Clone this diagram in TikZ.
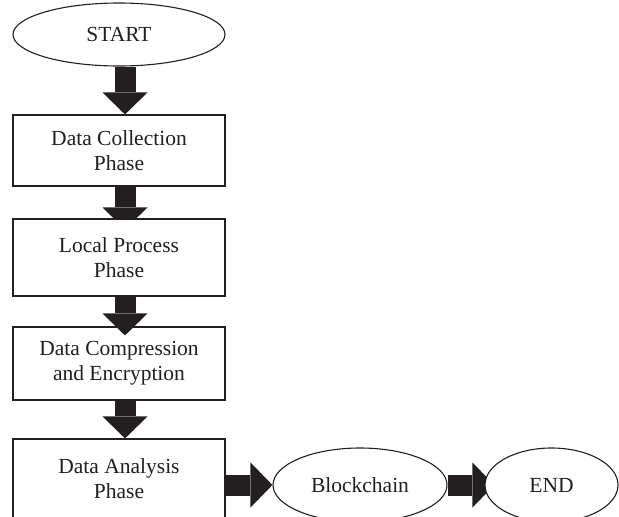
\documentclass[tikz,border=0pt]{standalone}
\usepackage{fontspec}
\setmainfont{Liberation Serif}
\usetikzlibrary{shapes.geometric,arrows.meta,backgrounds}
\definecolor{ink}{RGB}{35,31,32}
\begin{document}
\begin{tikzpicture}[x=1pt,y=-1pt,
  every node/.style={font=\fontsize{21.5}{25}\selectfont, text=ink},
  phase/.style={draw=ink, line width=1.1pt, fill=white, minimum width=212pt,
    align=center, inner sep=0pt},
  term/.style={draw=ink, line width=1.1pt, fill=white, ellipse, inner sep=0pt},
  blockarrow/.style={draw=ink, line width=21pt,
    -{Triangle[width=45pt,length=22pt,line width=0pt]}}
]
\useasboundingbox (0,0) rectangle (619,517);
\clip (0,0) rectangle (619,517);

% flow nodes
\node[term, minimum width=212pt, minimum height=63pt] (start) at (119,34.5) {START};
\node[phase, minimum height=71pt] (collect) at (119,150.5) {Data Collection\\Phase};
\node[phase, minimum height=77pt] (local) at (119,257.5) {Local Process\\Phase};
\node[phase, minimum height=73pt] (compress) at (119,363.5) {Data Compression\\and Encryption};
\node[phase, minimum height=80pt] (analysis) at (119,479) {Data Analysis\\Phase};
\node[term, minimum width=174pt, minimum height=74pt] (chain) at (360,485) {Blockchain};
\node[term, minimum width=133pt, minimum height=74pt] (finish) at (551.5,485) {END};

% block arrows; two of them tuck under the next shape
\draw[blockarrow] ([xshift=6pt]start.south) -- ([xshift=6pt]collect.north);
\begin{scope}[on background layer]
  \draw[blockarrow] ([xshift=6pt]collect.south) -- ([xshift=6pt,yshift=-11pt]local.north);
  \draw[blockarrow] (chain.east) -- ([xshift=10pt]finish.west);
\end{scope}
\draw[blockarrow] ([xshift=6pt]local.south) -- ([xshift=6pt,yshift=-9pt]compress.north);
\draw[blockarrow] ([xshift=6pt]compress.south) -- ([xshift=6pt]analysis.north);
\draw[blockarrow] (analysis.east |- chain.west) -- (chain.west);
\end{tikzpicture}
\end{document}
